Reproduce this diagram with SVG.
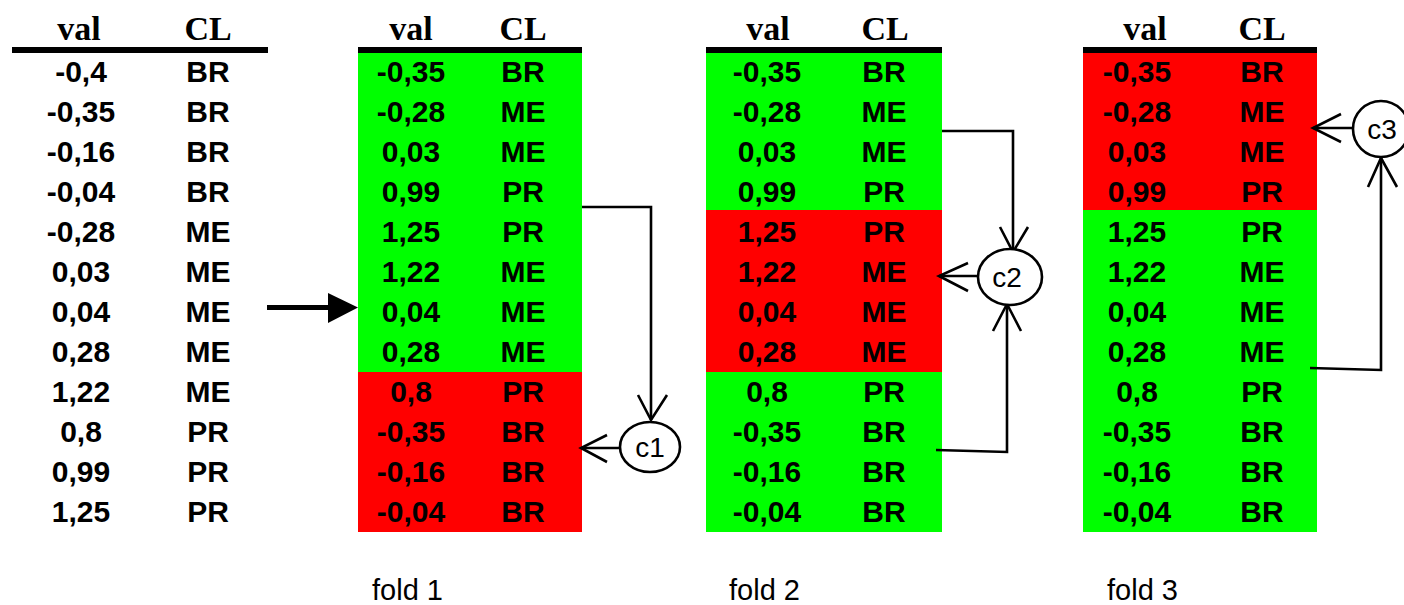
<svg xmlns="http://www.w3.org/2000/svg" width="1404" height="605" viewBox="0 0 1404 605">
<style>
.v{font-family:"Liberation Sans",Arial,sans-serif;font-weight:bold;font-size:30px;text-anchor:middle;fill:#000}
.h{font-family:"Liberation Serif","Times New Roman",serif;font-weight:bold;font-size:34px;text-anchor:middle;fill:#000}
.c{font-family:"Liberation Sans",Arial,sans-serif;font-size:28px;text-anchor:middle;fill:#000}
.f{font-family:"Liberation Sans",Arial,sans-serif;font-size:29px;fill:#000}
.g{fill:#00ff00}
.r{fill:#ff0000}
.bar{fill:#000}
.ln{fill:none;stroke:#000;stroke-width:2.6;stroke-linejoin:miter;stroke-linecap:butt}
.node{fill:#fff;stroke:#000;stroke-width:2.6}
</style>
<g id="table0">
<rect class="bar" x="12" y="47" width="256" height="6"/>
<text class="h" x="79" y="40">val</text><text class="h" x="208" y="40">CL</text>
<text class="v" x="81" y="82">-0,4</text><text class="v" x="208" y="82">BR</text>
<text class="v" x="81" y="122">-0,35</text><text class="v" x="208" y="122">BR</text>
<text class="v" x="81" y="162">-0,16</text><text class="v" x="208" y="162">BR</text>
<text class="v" x="81" y="202">-0,04</text><text class="v" x="208" y="202">BR</text>
<text class="v" x="81" y="242">-0,28</text><text class="v" x="208" y="242">ME</text>
<text class="v" x="81" y="282">0,03</text><text class="v" x="208" y="282">ME</text>
<text class="v" x="81" y="322">0,04</text><text class="v" x="208" y="322">ME</text>
<text class="v" x="81" y="362">0,28</text><text class="v" x="208" y="362">ME</text>
<text class="v" x="81" y="402">1,22</text><text class="v" x="208" y="402">ME</text>
<text class="v" x="81" y="442">0,8</text><text class="v" x="208" y="442">PR</text>
<text class="v" x="81" y="482">0,99</text><text class="v" x="208" y="482">PR</text>
<text class="v" x="81" y="522">1,25</text><text class="v" x="208" y="522">PR</text>
</g>
<g id="fold1">
<rect class="g" x="358" y="53" width="224" height="319"/>
<rect class="r" x="358" y="372" width="224" height="160"/>
<rect class="bar" x="358" y="47" width="224" height="6"/>
<text class="h" x="411" y="40">val</text><text class="h" x="523" y="40">CL</text>
<text class="v" x="411" y="82">-0,35</text><text class="v" x="523" y="82">BR</text>
<text class="v" x="411" y="122">-0,28</text><text class="v" x="523" y="122">ME</text>
<text class="v" x="411" y="162">0,03</text><text class="v" x="523" y="162">ME</text>
<text class="v" x="411" y="202">0,99</text><text class="v" x="523" y="202">PR</text>
<text class="v" x="411" y="242">1,25</text><text class="v" x="523" y="242">PR</text>
<text class="v" x="411" y="282">1,22</text><text class="v" x="523" y="282">ME</text>
<text class="v" x="411" y="322">0,04</text><text class="v" x="523" y="322">ME</text>
<text class="v" x="411" y="362">0,28</text><text class="v" x="523" y="362">ME</text>
<text class="v" x="411" y="402">0,8</text><text class="v" x="523" y="402">PR</text>
<text class="v" x="411" y="442">-0,35</text><text class="v" x="523" y="442">BR</text>
<text class="v" x="411" y="482">-0,16</text><text class="v" x="523" y="482">BR</text>
<text class="v" x="411" y="522">-0,04</text><text class="v" x="523" y="522">BR</text>
<text class="f" x="372" y="600">fold 1</text>
</g>
<g id="fold2">
<rect class="g" x="706" y="53" width="236" height="157"/>
<rect class="r" x="706" y="210" width="236" height="162"/>
<rect class="g" x="706" y="372" width="236" height="160"/>
<rect class="bar" x="706" y="47" width="236" height="6"/>
<text class="h" x="768" y="40">val</text><text class="h" x="885" y="40">CL</text>
<text class="v" x="767" y="82">-0,35</text><text class="v" x="884" y="82">BR</text>
<text class="v" x="767" y="122">-0,28</text><text class="v" x="884" y="122">ME</text>
<text class="v" x="767" y="162">0,03</text><text class="v" x="884" y="162">ME</text>
<text class="v" x="767" y="202">0,99</text><text class="v" x="884" y="202">PR</text>
<text class="v" x="767" y="242">1,25</text><text class="v" x="884" y="242">PR</text>
<text class="v" x="767" y="282">1,22</text><text class="v" x="884" y="282">ME</text>
<text class="v" x="767" y="322">0,04</text><text class="v" x="884" y="322">ME</text>
<text class="v" x="767" y="362">0,28</text><text class="v" x="884" y="362">ME</text>
<text class="v" x="767" y="402">0,8</text><text class="v" x="884" y="402">PR</text>
<text class="v" x="767" y="442">-0,35</text><text class="v" x="884" y="442">BR</text>
<text class="v" x="767" y="482">-0,16</text><text class="v" x="884" y="482">BR</text>
<text class="v" x="767" y="522">-0,04</text><text class="v" x="884" y="522">BR</text>
<text class="f" x="729" y="600">fold 2</text>
</g>
<g id="fold3">
<rect class="r" x="1083" y="53" width="234" height="157"/>
<rect class="g" x="1083" y="210" width="234" height="322"/>
<rect class="bar" x="1083" y="47" width="234" height="6"/>
<text class="h" x="1145" y="40">val</text><text class="h" x="1262" y="40">CL</text>
<text class="v" x="1137" y="82">-0,35</text><text class="v" x="1262" y="82">BR</text>
<text class="v" x="1137" y="122">-0,28</text><text class="v" x="1262" y="122">ME</text>
<text class="v" x="1137" y="162">0,03</text><text class="v" x="1262" y="162">ME</text>
<text class="v" x="1137" y="202">0,99</text><text class="v" x="1262" y="202">PR</text>
<text class="v" x="1137" y="242">1,25</text><text class="v" x="1262" y="242">PR</text>
<text class="v" x="1137" y="282">1,22</text><text class="v" x="1262" y="282">ME</text>
<text class="v" x="1137" y="322">0,04</text><text class="v" x="1262" y="322">ME</text>
<text class="v" x="1137" y="362">0,28</text><text class="v" x="1262" y="362">ME</text>
<text class="v" x="1137" y="402">0,8</text><text class="v" x="1262" y="402">PR</text>
<text class="v" x="1137" y="442">-0,35</text><text class="v" x="1262" y="442">BR</text>
<text class="v" x="1137" y="482">-0,16</text><text class="v" x="1262" y="482">BR</text>
<text class="v" x="1137" y="522">-0,04</text><text class="v" x="1262" y="522">BR</text>
<text class="f" x="1107" y="600">fold 3</text>
</g>
<g id="connectors">
<line x1="267" y1="307.5" x2="330" y2="307.5" stroke="#000" stroke-width="5"/>
<polygon points="328,293 358,307.5 328,323" fill="#000"/>
<polyline class="ln" points="582,207 651,207 651,420"/>
<polyline class="ln" points="638,395 651,420 667,395"/>
<line class="ln" x1="620" y1="448" x2="581" y2="448"/>
<polyline class="ln" points="607,435 581,448 607,462"/>
<polyline class="ln" points="942,131 1013,131 1013,252"/>
<polyline class="ln" points="1000,227 1013,252 1028,227"/>
<line class="ln" x1="979" y1="276" x2="939" y2="276"/>
<polyline class="ln" points="968,263 939,276 968,291"/>
<polyline class="ln" points="936,450 1007,452 1007,304"/>
<polyline class="ln" points="993,331 1007,304 1021,331"/>
<line class="ln" x1="1354" y1="128" x2="1313" y2="128"/>
<polyline class="ln" points="1341,114 1313,128 1341,142"/>
<polyline class="ln" points="1310,368 1381,370 1381,158"/>
<polyline class="ln" points="1368,187 1381,158 1397,187"/>
</g>
<g id="c1">
<ellipse class="node" cx="650" cy="447" rx="30" ry="25"/>
<text class="c" x="650" y="457">c1</text>
</g>
<g id="c2">
<ellipse class="node" cx="1010" cy="277" rx="32" ry="28"/>
<text class="c" x="1007" y="287">c2</text>
</g>
<g id="c3">
<ellipse class="node" cx="1381" cy="129" rx="28" ry="28"/>
<text class="c" x="1382" y="139">c3</text>
</g>
</svg>
